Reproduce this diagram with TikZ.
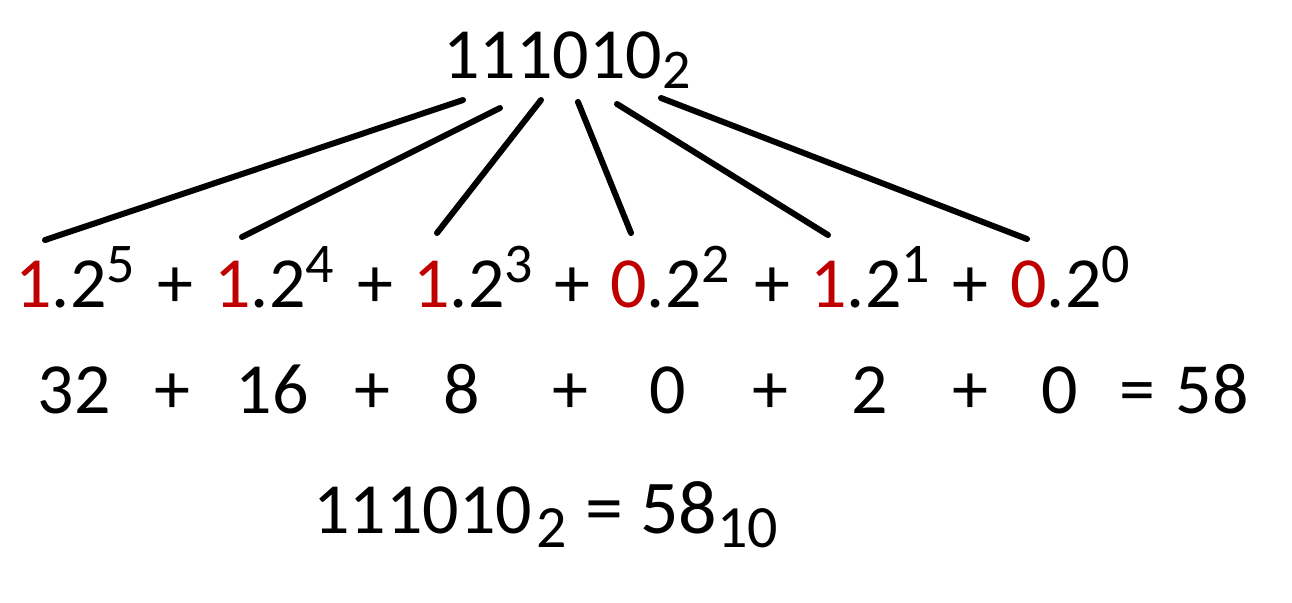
\documentclass[tikz,border=0pt]{standalone}
\usepackage{fontspec}
\setmainfont{Carlito}
\definecolor{bitred}{HTML}{C00000}
\newcommand{\pw}[1]{\raisebox{12.5pt}{\fontsize{28}{28}\selectfont #1}}
\newcommand{\bs}[3][5]{\raisebox{-#1pt}{\fontsize{#2}{#2}\selectfont #3}}
\tikzset{
  num/.style={inner sep=0pt, font=\fontsize{36}{43}\selectfont},
  link/.style={line width=3pt, line cap=round},
}

\begin{document}
\begin{tikzpicture}[x=0.5pt, y=-0.5pt]
  \useasboundingbox (0,0) rectangle (1292,602);

  \node[num, anchor=base west] (bin) at (443,78) {111010\bs{28}{2}};

  % terms of the expansion
  \foreach \i/\b/\x in {5/1/15, 4/1/214, 3/1/413, 2/0/610, 1/1/810, 0/0/1010}
    \node[num, anchor=base west] (term\i) at (\x,307) {\textcolor{bitred}{\b}.2\pw{\i}};
  \foreach \x in {175,375,572,772,970}
    \node[num, anchor=base] (plus\x) at (\x,307) {+};

  % values
  \foreach \v/\x [count=\k] in {32/74,+/172,16/272,+/372,8/462,+/570,0/668,+/770,2/870,+/970,0/1060,=/1137,58/1212}
    \node[num, anchor=base] (val\k) at (\x,413) {\v};

  \node[num, anchor=base west] (result) at (313,533)
    {111010\kern2pt\bs[7]{30}{2}\kern1pt{} {\fontsize{38}{43}\selectfont = 58}\bs[7]{30}{10}};

  % lines from the digits to the terms
  \foreach \i/\tx/\ty/\fx/\fy in {5/463/100/45/240, 4/500/108/242/237, 3/541/100/437/233,
                                  2/578/102/631/233, 1/617/104/828/235, 0/661/98/1027/239}
  {
    \coordinate (top\i) at (\tx,\ty);
    \coordinate (foot\i) at (\fx,\fy);
    \draw[link] (top\i) -- (foot\i);
  }
\end{tikzpicture}
\end{document}
